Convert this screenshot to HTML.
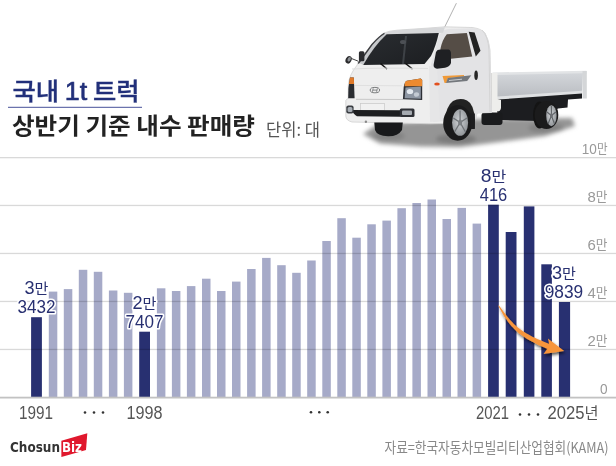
<!DOCTYPE html>
<html><head><meta charset="utf-8">
<style>
html,body{margin:0;padding:0;background:#fff;}
body{width:616px;height:466px;overflow:hidden;position:relative;}
svg{position:absolute;left:0;top:0;display:block;}
.h{stroke:#fff;stroke-width:3.2px;paint-order:stroke;stroke-linejoin:round;}
</style></head><body>
<svg width="616" height="466" viewBox="0 0 616 466">
<rect width="616" height="466" fill="#fff"/>
<g id="truck">
<defs>
<filter id="blur3" x="-20%" y="-50%" width="140%" height="200%"><feGaussianBlur stdDeviation="3"/></filter>
<filter id="blur2" x="-20%" y="-50%" width="140%" height="200%"><feGaussianBlur stdDeviation="2"/></filter>
<filter id="blur1" x="-20%" y="-20%" width="140%" height="140%"><feGaussianBlur stdDeviation="0.6"/></filter>
<linearGradient id="bedg" x1="0" y1="0" x2="0" y2="1"><stop offset="0" stop-color="#d3d6da"/><stop offset="1" stop-color="#b9bcc1"/></linearGradient>
<linearGradient id="wsg" x1="0" y1="0" x2="1" y2="1"><stop offset="0" stop-color="#2a2d31"/><stop offset="1" stop-color="#1c1e21"/></linearGradient>
<radialGradient id="rimg" cx="0.45" cy="0.45" r="0.6"><stop offset="0" stop-color="#d0d3d6"/><stop offset="1" stop-color="#8e9296"/></radialGradient>
</defs>
<!-- shadow -->
<g filter="url(#blur2)">
<polygon points="363,134 378,124 470,119 572,118 575,126 545,136 500,142 460,147 420,146.5 380,143.5" fill="#959595"/>
<ellipse cx="456" cy="139" rx="20" ry="5" fill="#7a7a7a"/>
<ellipse cx="389" cy="136" rx="16" ry="4.5" fill="#828282"/>
<ellipse cx="546" cy="128" rx="18" ry="4.5" fill="#808080"/>
</g>
<!-- antenna -->
<line x1="456.4" y1="3.2" x2="444.2" y2="28" stroke="#a8a8a8" stroke-width="0.9"/>
<!-- chassis under bed -->
<polygon points="497,97 582,91.5 582,98.5 568,99.5 567.5,107.5 558,108.5 540,121 502,120 497,112" fill="#1c1d20"/>
<!-- dark block under cab rear -->
<rect x="481.5" y="112.5" width="21" height="12.5" rx="3" fill="#1a1b1d"/>
<!-- rear wheel -->
<ellipse cx="539.5" cy="115" rx="6.5" ry="13.5" fill="#141414"/>
<ellipse cx="546.5" cy="115" rx="11.8" ry="14" fill="#1b1b1c"/>
<ellipse cx="551.4" cy="115.7" rx="5.2" ry="10.5" fill="url(#rimg)"/>
<g stroke="#5d6165" stroke-width="1.1">
<line x1="551.4" y1="115.7" x2="551.4" y2="106"/>
<line x1="551.4" y1="115.7" x2="555.8" y2="112"/>
<line x1="551.4" y1="115.7" x2="554.6" y2="124"/>
<line x1="551.4" y1="115.7" x2="548" y2="124"/>
<line x1="551.4" y1="115.7" x2="547" y2="112"/>
</g>
<ellipse cx="551.4" cy="115.7" rx="1.5" ry="2.4" fill="#6d7074"/>
<!-- cargo bed -->
<polygon points="492.5,72.4 586.5,70.8 586.5,74 492.5,76" fill="#e2e4e6"/>
<polygon points="496,75 583,73.2 582,92 497,97.5" fill="url(#bedg)"/>
<polygon points="497,96.5 582,90.8 582,93.6 497,99.6" fill="#dfe1e3"/>
<rect x="582.5" y="71" width="4.3" height="27.5" fill="#d4d6d8"/>
<path d="M490.5,73 L497.5,73 L497.5,99 L501,100 L501,108 Q500.5,111.5 497,111.5 L490.5,111.5 Z" fill="#eeeeec"/>
<rect x="490.5" y="73" width="1" height="38" fill="#c8c8c8"/>
<!-- cab body -->
<path d="M357.2,65 L358,62.3 L372,44 Q379,36 384,33 Q389,30.8 397,30.2 L425,28.3 L445,26.8 L472,27.5 Q481,28.5 485,33 Q489,40 490,50 L491.5,112.5 L477,113 L476,118 Q474,104 466,100 Q460,98 453,101 Q446,106 445,123.5 L430,123.8 L420,123.5 L352,122 Q346,120.5 345.8,116 L345.8,100.5 Q346.5,99 348.2,98.5 L348.3,85 Q349,75 357.2,65 Z" fill="#eeeeee" stroke="#d0d0d0" stroke-width="0.8"/>
<path d="M358,62.3 L372,44 Q379,36 384,33 L386.6,34.3 Q376,44 363.2,64.9 Z" fill="#c6c8cb"/>
<path d="M358.3,63.5 L372,44.5 Q379,36.5 384.5,33.2" stroke="#3a3b3e" stroke-width="1.3" fill="none"/>
<!-- side shade -->
<path d="M431,64 L439,36 Q442,30 448,29 L472,28.3 Q481,29 485,33 Q489,40 490,50 L491.5,112.5 L477,113 L476,118 Q474,104 466,100 Q460,98 453,101 Q446,106 445,121 L433,122 Z" fill="#e3e3e5"/>
<path d="M429,66 L437,66 L440,121 L430,122 Z" fill="#e6e6e7"/>
<path d="M384.5,33.2 Q389,30.8 397,30.2 L425,28.3 L445,27.2 L443,32.8 L438.8,33 L386.6,34.3 Z" fill="#d6d7d9"/>
<!-- windshield -->
<path d="M386.6,34.3 L438.8,33 Q436,46 431,56 L424.5,64 L363.2,64.9 Q374,46 386.6,34.3 Z" fill="url(#wsg)"/>
<clipPath id="wsc"><path d="M386.6,34.3 L438.8,33 Q436,46 431,56 L424.5,64 L363.2,64.9 Q374,46 386.6,34.3 Z"/></clipPath>
<g clip-path="url(#wsc)"><g opacity="0.4" filter="url(#blur1)">
<path d="M405,36 L407,36 L404,64 L402,64 Z" fill="#6a7076"/>
<ellipse cx="403" cy="42" rx="3" ry="2" fill="#8a9096"/>
</g></g>
<!-- wipers -->
<path d="M380.5,63.5 L387,69" stroke="#111" stroke-width="1.5"/>
<path d="M405.5,63.5 L412.5,69" stroke="#111" stroke-width="1.5"/>
<!-- side window -->
<path d="M446.8,34.2 L466.9,33 L472.2,56.6 L448.6,59 L440.3,49.5 Q442,40 446.8,34.2 Z" fill="#554d46"/>
<path d="M468.7,31.8 L474.6,32.4 L480.5,50.7 L475.8,56.6 Z" fill="#222"/>
<!-- big mirror -->
<path d="M436,52 Q437,49.6 440.5,49.6 L448.5,49.6 Q451,50.5 451,54 L451,63 Q450,66.5 445,67.8 L437,68.8 Q433.5,68.3 433.6,65 Z" fill="#1f2023"/>
<!-- left small mirror -->
<ellipse cx="348.6" cy="59.8" rx="2.9" ry="3.9" fill="#2c2c2e" transform="rotate(25 348.6 59.8)"/><ellipse cx="349.2" cy="59.2" rx="1.5" ry="2.4" fill="#8c8f93" transform="rotate(25 349.2 59.2)"/>
<line x1="351" y1="58.3" x2="358.5" y2="61.3" stroke="#444" stroke-width="1"/>
<rect x="358.9" y="51.3" width="5.5" height="10" rx="1.5" fill="#2a2b2e"/>
<!-- hood crease & grille line -->
<path d="M352,69 Q380,67.5 428,68.5" stroke="#dedede" stroke-width="1" fill="none"/>
<path d="M354,85.4 L402,85.8" stroke="#dcdcdc" stroke-width="0.8"/>
<path d="M356,99.3 L403,99.5" stroke="#c8c8c8" stroke-width="1"/>
<!-- left headlight -->
<path d="M350,77.4 L353.8,77.4 L354.6,98.3 L348.2,98.3 Q347.9,87 350,77.4 Z" fill="#2a2c30"/>
<path d="M350,77.4 L353.8,77.4 L354.1,84 L348.9,84 Z" fill="#e07a2a"/>
<!-- right headlight -->
<path d="M403.7,87 Q404.5,82 406.8,80.8 L420.7,78.5 L422.2,80 L422.2,100.1 L402.9,99.3 Z" fill="#2c2f35"/>
<path d="M405.5,87.5 L420.8,86.5 L420.8,98.8 L404.6,98.2 Z" fill="#8d96a3"/>
<ellipse cx="410" cy="91.5" rx="3.2" ry="2.6" fill="#e4e9ef"/>
<ellipse cx="416.5" cy="94.5" rx="2.6" ry="2.3" fill="#c3cad3"/>
<path d="M405,82 L406.8,80.8 L420.7,78.5 L422.2,80 L422.2,86.2 L404.5,86.2 Z" fill="#ec8a30"/>
<!-- logo -->
<ellipse cx="374.9" cy="90.1" rx="4.7" ry="2.7" fill="none" stroke="#6e7072" stroke-width="0.9"/><path d="M373.2,88.4 L372.4,91.8 M377.4,88.4 L376.6,91.8 M372.9,90.1 L377,90.1" stroke="#6e7072" stroke-width="0.8"/>
<!-- license plate recess -->
<rect x="360.5" y="103.6" width="24" height="7" fill="#f1f1f1" stroke="#c8c8c8" stroke-width="0.7"/>
<!-- lower grille -->
<path d="M352,110 L400.6,110.2 L400.6,116.8 L357,116.3 Q353,114 352,110 Z" fill="#1d1e20"/>
<!-- fog lights -->
<rect x="346.3" y="105.5" width="7.3" height="8" rx="2" fill="#3a3d42"/><rect x="347.6" y="107" width="4.8" height="5" rx="1.5" fill="#a7adb4"/>
<rect x="399.8" y="108.6" width="14.7" height="8.5" rx="1.5" fill="#2f3136"/>
<rect x="402" y="110.5" width="10" height="4.5" rx="1" fill="#a5aab0"/>
<!-- tow hook -->
<circle cx="365.9" cy="121.7" r="1.2" fill="#888"/>
<!-- front-left wheel under bumper -->
<path d="M374.3,122.5 L402.8,122.5 L402,130 Q398,136.5 388,136.3 Q377,136 375,130 Z" fill="#18191b"/>
<!-- front right wheel -->
<path d="M445,121 Q446,106 453,101 Q460,97.5 467,100.5 Q474,104 475,120 L474.5,128 L470,129 Z" fill="#222"/>
<ellipse cx="457.7" cy="123" rx="14.5" ry="17.7" fill="#1a1a1b"/>
<ellipse cx="460.1" cy="122.5" rx="8" ry="13.3" fill="url(#rimg)"/>
<g stroke="#6f7377" stroke-width="1.3">
<line x1="460.1" y1="122.5" x2="460.1" y2="110.5"/>
<line x1="460.1" y1="122.5" x2="467" y2="118"/>
<line x1="460.1" y1="122.5" x2="465.5" y2="132"/>
<line x1="460.1" y1="122.5" x2="454.5" y2="132"/>
<line x1="460.1" y1="122.5" x2="453.3" y2="118"/>
</g>
<ellipse cx="460.1" cy="122.5" rx="2" ry="3" fill="#7c8084"/>
<!-- mud flap -->
<path d="M470,113.6 L474.9,113.6 L474.9,129 L470.5,129 Z" fill="#1d1d1f"/>
<!-- decal -->
<path d="M442.5,76.1 L464,74.9 L464,76.5 L447.7,78.2 L446.5,83 L444.6,83 Z" fill="#f09a38"/>
<path d="M447.7,78.1 L471.3,75.2 L467.2,81 L446.1,83 Z" fill="#74787d"/>
<path d="M449,80.5 L462,79.2" stroke="#c9ccd0" stroke-width="1"/>
<!-- side marker -->
<ellipse cx="437" cy="84" rx="2.8" ry="1.5" fill="#e2501e"/>
<!-- door handle -->
<ellipse cx="476.1" cy="75.3" rx="1.8" ry="4.7" fill="#262626"/>
<!-- cab rear edge line -->
<path d="M482,30 Q488,36 489,50 L490,112" stroke="#cfcfcf" stroke-width="0.8" fill="none"/>

</g><!-- /truck -->
<rect x="8" y="106.8" width="134" height="1" fill="#47529a"/>
<g id="bars">
<rect x="31.10" y="317.2" width="10.80" height="80.3" fill="#283071"/>
<rect x="48.80" y="291.6" width="8.50" height="105.9" fill="#a6aac8"/>
<rect x="63.80" y="289.1" width="8.50" height="108.4" fill="#a6aac8"/>
<rect x="78.80" y="269.8" width="8.50" height="127.7" fill="#a6aac8"/>
<rect x="93.80" y="271.8" width="8.50" height="125.7" fill="#a6aac8"/>
<rect x="108.90" y="290.5" width="8.50" height="107.0" fill="#a6aac8"/>
<rect x="123.90" y="292.8" width="8.50" height="104.7" fill="#a6aac8"/>
<rect x="139.20" y="331.7" width="10.80" height="65.8" fill="#283071"/>
<rect x="156.90" y="288.3" width="8.50" height="109.2" fill="#a6aac8"/>
<rect x="171.90" y="291.0" width="8.50" height="106.5" fill="#a6aac8"/>
<rect x="186.90" y="286.1" width="8.50" height="111.4" fill="#a6aac8"/>
<rect x="202.00" y="278.7" width="8.50" height="118.8" fill="#a6aac8"/>
<rect x="217.00" y="291.0" width="8.50" height="106.5" fill="#a6aac8"/>
<rect x="232.00" y="281.6" width="8.50" height="115.9" fill="#a6aac8"/>
<rect x="247.10" y="269.0" width="8.50" height="128.5" fill="#a6aac8"/>
<rect x="262.10" y="257.9" width="8.50" height="139.6" fill="#a6aac8"/>
<rect x="277.20" y="265.2" width="8.50" height="132.3" fill="#a6aac8"/>
<rect x="292.20" y="272.8" width="8.50" height="124.7" fill="#a6aac8"/>
<rect x="307.20" y="260.5" width="8.50" height="137.0" fill="#a6aac8"/>
<rect x="322.30" y="241.0" width="8.50" height="156.5" fill="#a6aac8"/>
<rect x="337.30" y="218.2" width="8.50" height="179.3" fill="#a6aac8"/>
<rect x="352.30" y="237.7" width="8.50" height="159.8" fill="#a6aac8"/>
<rect x="367.30" y="224.3" width="8.50" height="173.2" fill="#a6aac8"/>
<rect x="382.40" y="220.6" width="8.50" height="176.9" fill="#a6aac8"/>
<rect x="397.40" y="208.2" width="8.50" height="189.3" fill="#a6aac8"/>
<rect x="412.40" y="203.0" width="8.50" height="194.5" fill="#a6aac8"/>
<rect x="427.50" y="199.5" width="8.50" height="198.0" fill="#a6aac8"/>
<rect x="442.50" y="219.0" width="8.50" height="178.5" fill="#a6aac8"/>
<rect x="457.50" y="207.9" width="8.50" height="189.6" fill="#a6aac8"/>
<rect x="472.60" y="223.6" width="8.50" height="173.9" fill="#a6aac8"/>
<rect x="488.10" y="204.7" width="10.70" height="192.8" fill="#283071"/>
<rect x="505.70" y="232.0" width="10.80" height="165.5" fill="#283071"/>
<rect x="523.80" y="206.4" width="10.60" height="191.1" fill="#283071"/>
<rect x="541.30" y="264.3" width="10.60" height="133.2" fill="#283071"/>
<rect x="558.90" y="302.0" width="11.20" height="95.5" fill="#283071"/>
</g>
<g id="grid" fill="#000" fill-opacity="0.15">
<rect x="0" y="157.0" width="616" height="1.3"/>
<rect x="0" y="204.8" width="616" height="1.3"/>
<rect x="0" y="252.8" width="616" height="1.3"/>
<rect x="0" y="300.8" width="616" height="1.3"/>
<rect x="0" y="348.8" width="616" height="1.3"/>
</g>
<rect x="0" y="396.7" width="616" height="1.8" fill="#c2c2c2"/>
<g fill="#333">
<circle cx="85" cy="412.5" r="1.3"/><circle cx="94" cy="412.5" r="1.3"/><circle cx="103" cy="412.5" r="1.3"/>
<circle cx="311" cy="412.3" r="1.3"/><circle cx="319.3" cy="412.3" r="1.3"/><circle cx="327.7" cy="412.3" r="1.3"/>
<circle cx="520" cy="414.5" r="1.3"/><circle cx="529" cy="414.5" r="1.3"/><circle cx="538" cy="414.5" r="1.3"/>
</g>
<defs><filter id="ash" x="-20%" y="-20%" width="150%" height="150%"><feDropShadow dx="1.2" dy="2.2" stdDeviation="1.8" flood-color="#000" flood-opacity="0.65"/></filter></defs>
<path d="M498.9,305.4 L500.3,307.2 L501.6,309.0 L502.9,310.7 L504.1,312.4 L505.3,314.0 L506.5,315.5 L507.7,317.0 L508.9,318.5 L510.1,319.9 L511.4,321.3 L512.6,322.6 L513.9,323.9 L515.3,325.2 L516.7,326.4 L518.1,327.7 L519.6,328.8 L521.2,330.0 L522.9,331.2 L524.7,332.3 L526.6,333.5 L528.6,334.6 L530.7,335.7 L532.9,336.9 L535.3,338.0 L537.8,339.2 L540.5,340.3 L543.3,341.5 L546.3,342.7 L549.5,343.9 L549.3,344.6 L547.9,338.4 L564.2,351 L543.5,353.9 L546.8,349.6 L547.5,348.9 L544.3,347.6 L541.3,346.2 L538.4,344.9 L535.7,343.6 L533.2,342.3 L530.8,341.0 L528.5,339.7 L526.3,338.5 L524.3,337.1 L522.4,335.8 L520.6,334.5 L518.8,333.2 L517.2,331.8 L515.7,330.4 L514.2,329.1 L512.9,327.6 L511.5,326.2 L510.3,324.7 L509.1,323.2 L507.9,321.7 L506.8,320.1 L505.7,318.5 L504.6,316.9 L503.5,315.2 L502.5,313.4 L501.4,311.6 L500.4,309.8 L499.3,307.8 L498.3,305.8 Z" fill="#f7953a" filter="url(#ash)"/>
<polygon points="61.4,440.8 87.3,433.3 86,450 61.4,457" fill="#e0182d"/>
<text x="12.5" y="99.6" font-size="24" font-weight="500" font-family="'Noto Sans CJK KR','Liberation Sans',sans-serif" fill="#22307a" text-anchor="start" textLength="127" lengthAdjust="spacingAndGlyphs" stroke="#22307a" stroke-width="0.35">국내 <tspan font-family="'Liberation Sans',sans-serif" font-weight="400" font-size="25.5" stroke="#22307a" stroke-width="0.6">1t</tspan> 트럭</text>
<text x="12" y="134.4" font-size="22.5" font-weight="700" font-family="'Noto Sans CJK KR','Liberation Sans',sans-serif" fill="#222" text-anchor="start" textLength="243" lengthAdjust="spacingAndGlyphs">상반기 기준 내수 판매량</text>
<text x="266" y="135.5" font-size="17" font-weight="400" font-family="'Noto Sans CJK KR','Liberation Sans',sans-serif" fill="#555" text-anchor="start" textLength="54" lengthAdjust="spacingAndGlyphs">단위: 대</text>
<text x="607.5" y="153.7" font-size="13" font-weight="400" font-family="'Noto Sans CJK KR','Liberation Sans',sans-serif" fill="#999" text-anchor="end" textLength="25.7" lengthAdjust="spacingAndGlyphs"><tspan font-family="'Liberation Sans',sans-serif" font-size="15.3" font-weight="400">10</tspan><tspan dy="-0.7">만</tspan></text>
<text x="607.5" y="201.7" font-size="13" font-weight="400" font-family="'Noto Sans CJK KR','Liberation Sans',sans-serif" fill="#999" text-anchor="end" textLength="20" lengthAdjust="spacingAndGlyphs"><tspan font-family="'Liberation Sans',sans-serif" font-size="15.3" font-weight="400">8</tspan><tspan dy="-0.7">만</tspan></text>
<text x="607.5" y="249.7" font-size="13" font-weight="400" font-family="'Noto Sans CJK KR','Liberation Sans',sans-serif" fill="#999" text-anchor="end" textLength="20" lengthAdjust="spacingAndGlyphs"><tspan font-family="'Liberation Sans',sans-serif" font-size="15.3" font-weight="400">6</tspan><tspan dy="-0.7">만</tspan></text>
<text x="607.5" y="297.7" font-size="13" font-weight="400" font-family="'Noto Sans CJK KR','Liberation Sans',sans-serif" fill="#999" text-anchor="end" textLength="20" lengthAdjust="spacingAndGlyphs"><tspan font-family="'Liberation Sans',sans-serif" font-size="15.3" font-weight="400">4</tspan><tspan dy="-0.7">만</tspan></text>
<text x="607.5" y="345.7" font-size="13" font-weight="400" font-family="'Noto Sans CJK KR','Liberation Sans',sans-serif" fill="#999" text-anchor="end" textLength="20" lengthAdjust="spacingAndGlyphs"><tspan font-family="'Liberation Sans',sans-serif" font-size="15.3" font-weight="400">2</tspan><tspan dy="-0.7">만</tspan></text>
<text x="607.6" y="393.7" font-size="15.3" font-weight="400" font-family="'Liberation Sans',sans-serif" fill="#999" text-anchor="end" textLength="7.6" lengthAdjust="spacingAndGlyphs">0</text>
<text x="36.5" y="294.4" font-size="18" font-weight="400" font-family="'Noto Sans CJK KR','Liberation Sans',sans-serif" fill="#283071" text-anchor="middle" textLength="24" lengthAdjust="spacingAndGlyphs" class="h"><tspan font-family="'Liberation Sans',sans-serif">3</tspan><tspan font-size="15">만</tspan></text>
<text x="36.5" y="313" font-size="17.5" font-weight="400" font-family="'Liberation Sans',sans-serif" fill="#283071" text-anchor="middle" textLength="38" lengthAdjust="spacingAndGlyphs" class="h">3432</text>
<text x="144.5" y="309.4" font-size="18" font-weight="400" font-family="'Noto Sans CJK KR','Liberation Sans',sans-serif" fill="#283071" text-anchor="middle" textLength="24" lengthAdjust="spacingAndGlyphs" class="h"><tspan font-family="'Liberation Sans',sans-serif">2</tspan><tspan font-size="15">만</tspan></text>
<text x="144.5" y="327.5" font-size="17.5" font-weight="400" font-family="'Liberation Sans',sans-serif" fill="#283071" text-anchor="middle" textLength="38" lengthAdjust="spacingAndGlyphs" class="h">7407</text>
<text x="493.5" y="182.4" font-size="18" font-weight="400" font-family="'Noto Sans CJK KR','Liberation Sans',sans-serif" fill="#283071" text-anchor="middle" textLength="25.5" lengthAdjust="spacingAndGlyphs" class="h"><tspan font-family="'Liberation Sans',sans-serif">8</tspan><tspan font-size="15">만</tspan></text>
<text x="493.5" y="200.5" font-size="17.5" font-weight="400" font-family="'Liberation Sans',sans-serif" fill="#283071" text-anchor="middle" textLength="27.5" lengthAdjust="spacingAndGlyphs" class="h">416</text>
<text x="564" y="279.4" font-size="18" font-weight="400" font-family="'Noto Sans CJK KR','Liberation Sans',sans-serif" fill="#283071" text-anchor="middle" textLength="24" lengthAdjust="spacingAndGlyphs" class="h"><tspan font-family="'Liberation Sans',sans-serif">3</tspan><tspan font-size="15">만</tspan></text>
<text x="564" y="298.4" font-size="17.5" font-weight="400" font-family="'Liberation Sans',sans-serif" fill="#283071" text-anchor="middle" textLength="38.5" lengthAdjust="spacingAndGlyphs" class="h">9839</text>
<text x="19" y="418.7" font-size="17.5" font-weight="400" font-family="'Liberation Sans',sans-serif" fill="#555" text-anchor="start" textLength="34" lengthAdjust="spacingAndGlyphs">1991</text>
<text x="126.5" y="418.7" font-size="17.5" font-weight="400" font-family="'Liberation Sans',sans-serif" fill="#555" text-anchor="start" textLength="36" lengthAdjust="spacingAndGlyphs">1998</text>
<text x="476" y="418.7" font-size="17.5" font-weight="400" font-family="'Liberation Sans',sans-serif" fill="#555" text-anchor="start" textLength="33" lengthAdjust="spacingAndGlyphs">2021</text>
<text x="547.5" y="418.6" font-size="17.5" font-weight="400" font-family="'Noto Sans CJK KR','Liberation Sans',sans-serif" fill="#555" text-anchor="start" textLength="51" lengthAdjust="spacingAndGlyphs"><tspan font-family="'Liberation Sans',sans-serif">2025</tspan><tspan font-size="16">년</tspan></text>
<text x="10" y="451.6" font-size="13.5" font-weight="700" font-family="'DejaVu Sans',sans-serif" fill="#333" text-anchor="start" textLength="50" lengthAdjust="spacingAndGlyphs">Chosun</text>
<text x="62" y="451.8" font-size="13.5" font-weight="700" font-family="'DejaVu Sans',sans-serif" fill="#fff" text-anchor="start" textLength="20" lengthAdjust="spacingAndGlyphs">Biz</text>
<text x="608.5" y="452.5" font-size="14.5" font-weight="400" font-family="'Noto Sans CJK KR','Liberation Sans',sans-serif" fill="#888" text-anchor="end" textLength="224" lengthAdjust="spacingAndGlyphs">자료=한국자동차모빌리티산업협회(KAMA)</text>
</svg>
</body></html>
